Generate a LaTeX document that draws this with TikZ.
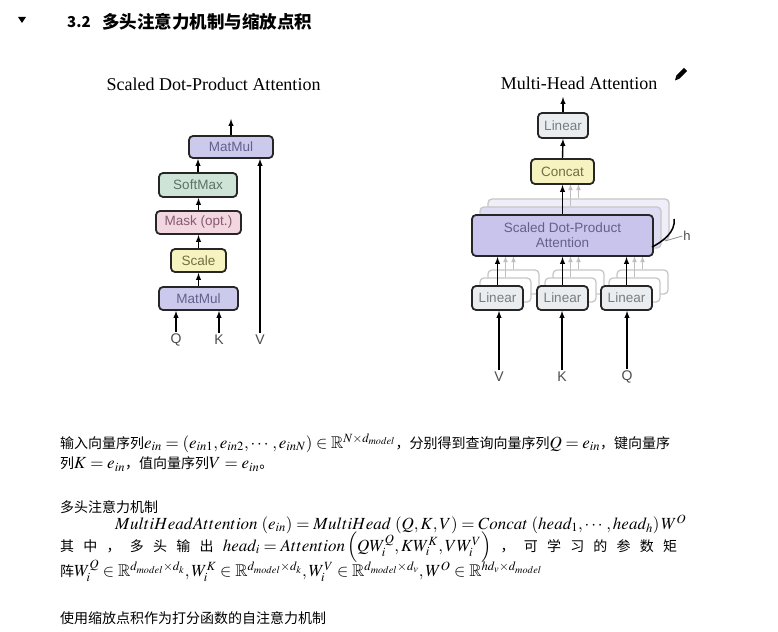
\documentclass[tikz,border=0pt]{standalone}
\usepackage{amsmath}
\usepackage{mathptmx}
\usepackage{amssymb}
\usepackage{fontspec}
\setmainfont{Liberation Serif}
\newfontfamily\boxfont{Liberation Sans}
\newfontfamily\cjk{Noto Sans CJK SC}
\usetikzlibrary{arrows,positioning}
\definecolor{mmfill}{RGB}{204,202,236}
\definecolor{mmtext}{RGB}{100,96,140}
\definecolor{smfill}{RGB}{206,228,214}
\definecolor{smtext}{RGB}{90,115,100}
\definecolor{mkfill}{RGB}{242,214,224}
\definecolor{mktext}{RGB}{135,90,110}
\definecolor{scfill}{RGB}{246,243,192}
\definecolor{sctext}{RGB}{115,110,65}
\definecolor{lnfill}{RGB}{234,237,239}
\definecolor{lntext}{RGB}{120,124,128}
\definecolor{sdfill}{RGB}{200,196,236}
\definecolor{sdback}{RGB}{222,220,242}
\newcommand{\bodyfont}{\cjk\fontsize{14}{16}\selectfont}
\newcommand{\mth}[1]{{\fontsize{17}{20}\selectfont$#1$}}
% stretch between characters of a justified line
\newcommand{\cg}{\hskip 0pt plus 1fil\relax}

\begin{document}
\begin{tikzpicture}[x=1pt,y=-1pt,
    box/.style={rectangle,draw=black!85,line width=1.8pt,rounded corners=4pt,inner sep=0pt,align=center,font=\boxfont\fontsize{13.5}{15}\selectfont},
    ghost/.style={box,draw=black!22,line width=1.3pt,fill=white},
    lbl/.style={font=\boxfont\fontsize{14}{14}\selectfont,text=black!70,inner sep=2pt},
    body/.style={anchor=west,inner sep=0pt,font=\bodyfont},
    arr/.style={-latex,line width=1.4pt},
    garr/.style={-latex,line width=1.1pt,draw=black!25}]
    \useasboundingbox (0,0) rectangle (778,631);
    \fill[white] (0,0) rectangle (778,631);

    % Section heading
    \fill (18,17) -- (26,17) -- (22,23) -- cycle;
    \node[anchor=west,inner sep=0pt,font=\cjk\bfseries\fontsize{15}{18}\selectfont] at (67,22) (secnum) {3.2};
    \node[anchor=west,inner sep=0pt,font=\cjk\bfseries\fontsize{17.5}{18}\selectfont] at (102,22) (sectitle) {多头注意力机制与缩放点积};

    % Scaled Dot-Product Attention
    \node[font=\fontsize{18}{20}\selectfont] at (213.5,84) (lefttitle) {Scaled Dot-Product Attention};
    \node[box,fill=mmfill,text=mmtext,minimum width=84pt,minimum height=22pt] at (231,147) (mm2) {MatMul};
    \node[box,fill=smfill,text=smtext,minimum width=78pt,minimum height=24pt] at (198,185) (softmax) {SoftMax};
    \node[box,fill=mkfill,text=mktext,minimum width=85pt,minimum height=23pt] at (198.5,222.5) (mask) {Mask (opt.)};
    \node[box,fill=scfill,text=sctext,minimum width=55pt,minimum height=23pt] at (198.5,260.5) (scale) {Scale};
    \node[box,fill=mmfill,text=mmtext,minimum width=79pt,minimum height=23pt] at (198.5,298.5) (mm1) {MatMul};
    \node[lbl] at (176,340) (q1) {Q};
    \node[lbl] at (219,340) (k1) {K};
    \node[lbl] at (260,340) (v1) {V};
    \coordinate (out1) at (231,119);

    \draw[arr] (q1.north) -- (q1.north |- mm1.south);
    \draw[arr] (k1.north) -- (k1.north |- mm1.south);
    \draw[arr] (mm1.north) -- (mm1.north |- scale.south);
    \draw[arr] (scale.north) -- (scale.north |- mask.south);
    \draw[arr] (mask.north) -- (mask.north |- softmax.south);
    \draw[arr] (softmax.north) -- (softmax.north |- mm2.south);
    \draw[arr] (v1.north) -- (v1.north |- mm2.south);
    \draw[arr] (mm2.north) -- (out1);

    % Multi-Head Attention
    \node[font=\fontsize{18}{20}\selectfont] at (579,83) (righttitle) {Multi-Head Attention};
    \draw[line width=4.5pt] (685.5,69.5) -- (678,77);
    \fill (679.6,78.6) -- (676.4,75.4) -- (675,80.5) -- cycle;

    \foreach \d/\c in {16/sdback!45,8/sdback}
        \node[ghost,fill=\c,minimum width=181pt,minimum height=41pt] at (562.5+\d,235.5-\d) (sd\d) {};
    \foreach \n/\x in {v/497.5,k/562.5,q/626.5}
        \foreach \d in {16,8}
            \node[ghost,minimum width=51pt,minimum height=24pt] at (\x+\d,298-\d) (lin\n\d) {};
    \foreach \n in {v,k,q}
        \foreach \d in {8,16}
            \draw[garr] (lin\n\d.north) -- (lin\n\d.north |- 0,256);
    \draw[garr] (sd8.north) -- (sd8.north |- 0,184);
    \draw[garr] (sd16.north) -- (sd16.north |- 0,184);

    \node[box,fill=sdfill,text=mmtext,minimum width=181pt,minimum height=41pt] at (562.5,235.5) (sdpa) {Scaled Dot-Product\\Attention};
    \node[box,fill=lnfill,text=lntext,minimum width=51pt,minimum height=24pt] at (497.5,298) (linv) {Linear};
    \node[box,fill=lnfill,text=lntext,minimum width=51pt,minimum height=24pt] at (562.5,298) (link) {Linear};
    \node[box,fill=lnfill,text=lntext,minimum width=51pt,minimum height=24pt] at (626.5,298) (linq) {Linear};
    \node[box,fill=scfill,text=sctext,minimum width=63pt,minimum height=25pt] at (562.5,171.5) (concat) {Concat};
    \node[box,fill=lnfill,text=lntext,minimum width=50pt,minimum height=25pt] at (563,125.5) (outlin) {Linear};
    \node[lbl] at (499,377) (v2) {V};
    \node[lbl] at (562,377) (k2) {K};
    \node[lbl] at (627,377) (q2) {Q};
    \coordinate (out2) at (563,97);

    % h marker
    \coordinate (hs) at (674,219);
    \coordinate (he) at (652,247);
    \draw[line width=1.5pt] (hs) .. controls (676,232) and (662,242) .. (he);
    \node[font=\boxfont\fontsize{13}{13}\selectfont,text=black!70,inner sep=1pt] at (687,236) (hlbl) {h};
    \draw[line width=0.8pt,black!45] (665,241) -- (hlbl.west);

    \draw[arr] (v2.north) -- (v2.north |- linv.south);
    \draw[arr] (k2.north) -- (k2.north |- link.south);
    \draw[arr] (q2.north) -- (q2.north |- linq.south);
    \draw[arr] (linv.north) -- (linv.north |- sdpa.south);
    \draw[arr] (link.north) -- (link.north |- sdpa.south);
    \draw[arr] (linq.north) -- (linq.north |- sdpa.south);
    \draw[arr] (sdpa.north) -- (concat.south);
    \draw[arr] (concat.north) -- (outlin.south);
    \draw[arr] (outlin.north) -- (out2);

    % Text below
    \node[body] at (60,443) (txta) {\makebox[610pt][s]{输\cg 入\cg 向\cg 量\cg 序\cg 列\cg\mth{e_{in}=\left(e_{in1},\cg e_{in2},\cg\cdots,\cg e_{inN}\right)\in\mathbb{R}^{N\times d_{model}}}\cg，\cg 分\cg 别\cg 得\cg 到\cg 查\cg 询\cg 向\cg 量\cg 序\cg 列\cg\mth{Q=e_{in}}\cg，\cg 键\cg 向\cg 量\cg 序}};
    \node[body] at (60,464) (txtb) {列\mth{K=e_{in}}，值向量序列\mth{V=e_{in}}。};
    \node[body] at (60,507) (txtc) {多头注意力机制};
    \node[body] at (115,524) (txtd) {\mth{MultiHeadAttention\,\left(e_{in}\right)=MultiHead\,\left(Q,K,V\right)=Concat\,\left(head_1,\cdots,head_h\right)W^{O}}};
    \node[body] at (60,547) (txte) {\makebox[617pt][s]{其\cg 中\cg，\cg 多\cg 头\cg 输\cg 出\cg\mth{head_i=Attention\left(QW_i^{Q},\cg KW_i^{K},\cg VW_i^{V}\right)}\cg，\cg 可\cg 学\cg 习\cg 的\cg 参\cg 数\cg 矩}};
    \node[body] at (60,571) (txtf) {阵\mth{W_i^{Q}\in\mathbb{R}^{d_{model}\times d_k},W_i^{K}\in\mathbb{R}^{d_{model}\times d_k},W_i^{V}\in\mathbb{R}^{d_{model}\times d_v},W^{O}\in\mathbb{R}^{hd_v\times d_{model}}}};
    \node[body] at (60,618) (txtg) {使用缩放点积作为打分函数的自注意力机制};
\end{tikzpicture}
\end{document}
